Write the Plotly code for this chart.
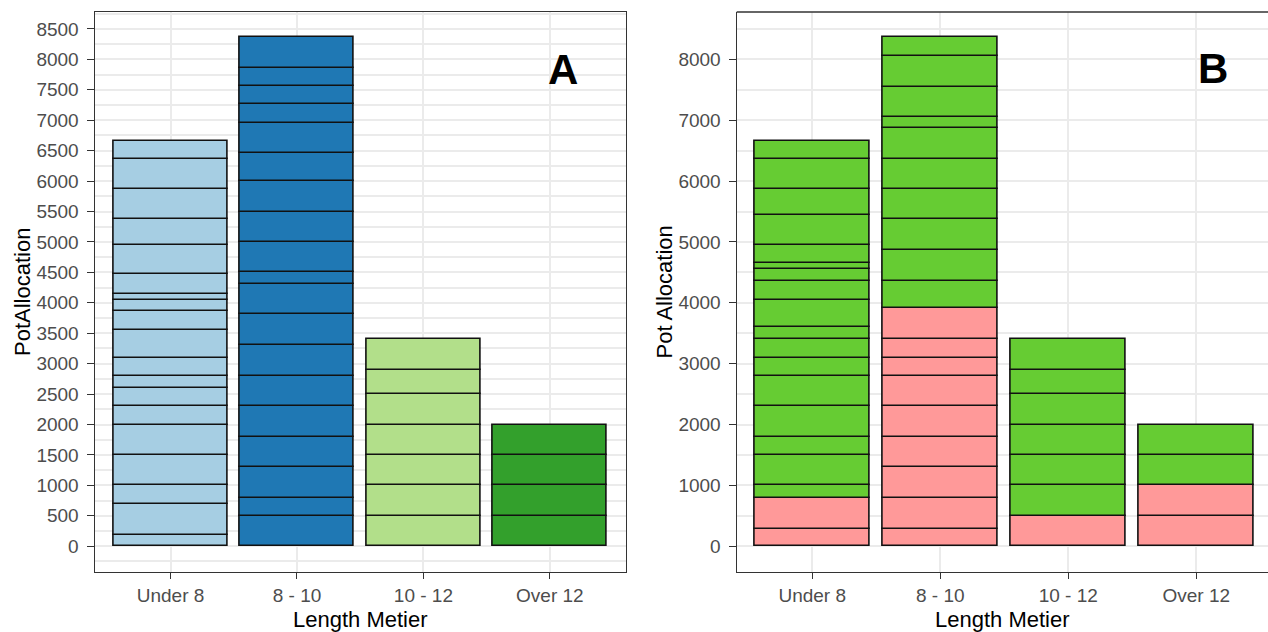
import plotly.graph_objects as go

# ---------------- data ----------------
categories = ["Under 8", "8 - 10", "10 - 12", "Over 12"]

# Panel A: individual allocation segments, bottom to top, per length metier
seg_A_under8 = [190, 510, 300, 500, 500, 300, 300, 200, 300, 450, 320, 180, 100, 320, 480, 420, 500, 500, 290]
seg_A_8_10 = [500, 290, 510, 500, 500, 500, 510, 500, 500, 190, 500, 500, 500, 460, 490, 320, 300, 290, 500]
seg_A_10_12 = [500, 500, 500, 500, 500, 400, 500]
seg_A_over12 = [500, 500, 500, 500]

# Panel B: segments split into two groups (red bottom, green top)
seg_B_red = {
    "Under 8": [290, 500],
    "8 - 10": [290, 500, 510, 500, 500, 500, 290, 320, 500],
    "10 - 12": [500],
    "Over 12": [500, 500],
}
seg_B_green = {
    "Under 8": [210, 500, 300, 500, 500, 290, 320, 190, 440, 320, 200, 90, 300, 490, 430, 500, 290],
    "8 - 10": [450, 510, 500, 500, 500, 500, 180, 500, 510, 300],
    "10 - 12": [500, 500, 500, 500, 400, 500],
    "Over 12": [500, 500],
}

colors_A = ["#A6CEE3", "#1F78B4", "#B2DF8A", "#33A02C"]
color_red = "#FF9999"
color_green = "#66CC33"

y_ticks_A = list(range(0, 8501, 500))
y_ticks_B = list(range(0, 8001, 1000))

W, H = 1268, 632
FONT = "Liberation Sans, Arial, sans-serif"

fig = go.Figure()


def add_stack(xaxis, yaxis, cat, segs, start, color):
    bases = []
    b = start
    for s in segs:
        bases.append(b)
        b += s
    fig.add_trace(go.Bar(
        x=[cat] * len(segs), y=segs, base=bases, width=0.9,
        marker=dict(color=color, line=dict(color="#111111", width=1.6)),
        xaxis=xaxis, yaxis=yaxis, showlegend=False, hoverinfo="x+y",
    ))
    return b


segs_A = [seg_A_under8, seg_A_8_10, seg_A_10_12, seg_A_over12]
for cat, segs, col in zip(categories, segs_A, colors_A):
    add_stack("x", "y", cat, segs, 0, col)

for cat in categories:
    top = add_stack("x2", "y2", cat, seg_B_red[cat], 0, color_red)
    add_stack("x2", "y2", cat, seg_B_green[cat], top, color_green)

# ---------------- layout ----------------
px = lambda v: v / W
py = lambda v: (H - v) / H

yA = [py(571.7), py(12)]
xA = [px(94.7), px(625.7)]
xB = [px(736.7), 1.0]

grid = "#EBEBEB"
border = "#333333"
tickfont = dict(family=FONT, size=19, color="#4D4D4D")

common_x = dict(
    type="category", categoryorder="array", categoryarray=categories,
    showgrid=True, gridcolor=grid, gridwidth=1.5,
    ticks="outside", ticklen=6, tickwidth=1.3, tickcolor=border,
    tickfont=tickfont, zeroline=False, fixedrange=True,
)
common_y = dict(
    range=[-418, 8778], showgrid=True, gridcolor=grid, gridwidth=1.5,
    ticks="outside", ticklen=7, tickwidth=1.3, tickcolor=border,
    tickfont=tickfont, zeroline=False, ticklabelstandoff=4,
)

fig.update_layout(
    width=W, height=H,
    margin=dict(l=0, r=0, t=0, b=0),
    paper_bgcolor="white", plot_bgcolor="white",
    barmode="overlay", bargap=0,
    font=dict(family=FONT),
    xaxis=dict(domain=xA, range=[-0.6, 3.6], anchor="y",
               showline=True, mirror=True, linecolor=border, linewidth=1.4, **common_x),
    yaxis=dict(domain=yA, anchor="x", tickvals=y_ticks_A,
               minor=dict(tick0=250, dtick=500, showgrid=True, gridcolor=grid, gridwidth=1.5, ticklen=0),
               showline=True, mirror=True, linecolor=border, linewidth=1.4, **common_y),
    xaxis2=dict(domain=xB, range=[-0.59, 3.56], anchor="y2",
                showline=True, linecolor=border, linewidth=1.4, **common_x),
    yaxis2=dict(domain=yA, anchor="x2", tickvals=y_ticks_B,
                minor=dict(tick0=500, dtick=1000, showgrid=True, gridcolor=grid, gridwidth=1.5, ticklen=0),
                showline=True, linecolor=border, linewidth=1.4, **common_y),
)

# top border of panel B (right edge is cropped in the reference)
fig.add_shape(type="line", xref="paper", yref="paper",
              x0=xB[0], x1=1.0, y0=yA[1], y1=yA[1],
              line=dict(color=border, width=1.4))

title_font = dict(family=FONT, size=22, color="black")
ann = [
    dict(text="Length Metier", x=px(360), y=py(619), font=title_font),
    dict(text="Length Metier", x=px(1002.5), y=py(619), font=title_font),
    dict(text="PotAllocation", x=px(22), y=py(292), font=title_font, textangle=-90),
    dict(text="Pot Allocation", x=px(663.5), y=py(292), font=title_font, textangle=-90),
    dict(text="<b>A</b>", x=px(563.3), y=py(69), font=dict(family=FONT, size=42, color="black")),
    dict(text="<b>B</b>", x=px(1213), y=py(68), font=dict(family=FONT, size=42, color="black")),
]
for a in ann:
    fig.add_annotation(xref="paper", yref="paper", showarrow=False,
                       xanchor="center", yanchor="middle", **a)

fig.write_html(
    "out.html",
    config={"displayModeBar": False},
    post_script="document.body.style.margin='0';document.body.style.overflow='hidden';",
)
